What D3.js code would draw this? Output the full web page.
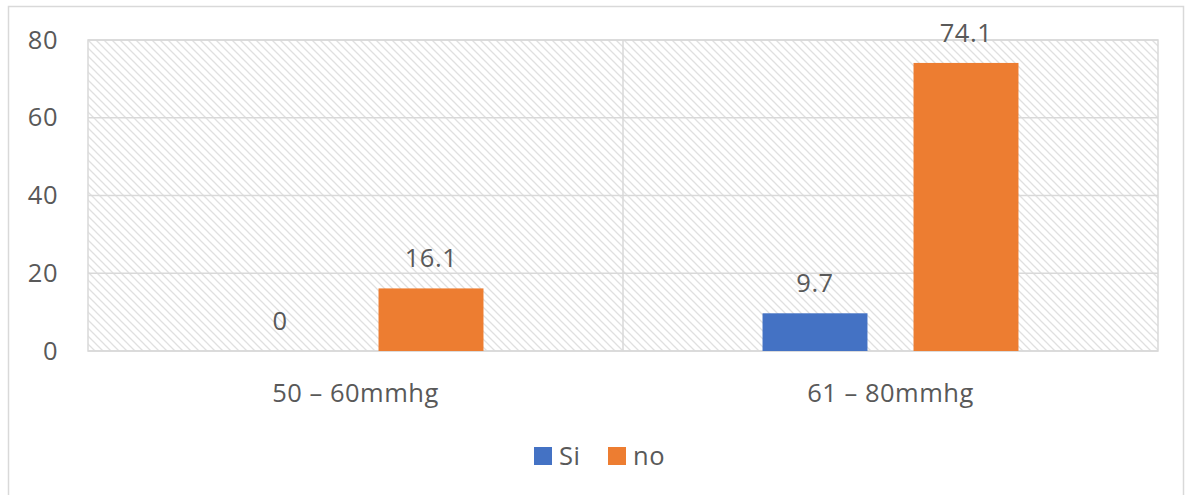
<!DOCTYPE html>
<html>
<head>
<meta charset="utf-8">
<script src="https://cdn.jsdelivr.net/npm/d3@7"></script>
<style>
  html, body { margin: 0; padding: 0; background: #fff; }
  svg { display: block; }
  text { font-family: "Open Sans", sans-serif; fill: #595959; letter-spacing: 0.5px; }
</style>
</head>
<body>
<svg id="chart" width="1187" height="495"></svg>
<script>
// Chart data
const categories = ["50 \u2013 60mmhg", "61 \u2013 80mmhg"];
const seriesNames = ["Si", "no"];
const siValues = [0, 9.7];
const noValues = [16.1, 74.1];
const yTicks = [0, 20, 40, 60, 80];
const seriesColors = ["#4472c4", "#ed7d31"];

const W = 1187, H = 495;
const margin = { left: 88, right: 29, top: 40, bottom: 144 };
const fontSize = 25.5;
const svg = d3.select("#chart");

// Diagonal hatch fill for the plot area
const defs = svg.append("defs");
const pat = defs.append("pattern")
  .attr("id", "hatch")
  .attr("patternUnits", "userSpaceOnUse")
  .attr("width", 8).attr("height", 8);
pat.append("path")
  .attr("d", "M-2,-2 L10,10 M-2,6 L2,10 M6,-2 L10,2")
  .attr("stroke", "#e0e0e0")
  .attr("stroke-width", 1.3);

// Outer chart frame
svg.append("rect")
  .attr("x", 8.5).attr("y", 6.5)
  .attr("width", 1175).attr("height", 500)
  .attr("fill", "none")
  .attr("stroke", "#d9d9d9")
  .attr("stroke-width", 1.5);

const x0 = d3.scaleBand()
  .domain(categories)
  .range([margin.left, W - margin.right]);

const x1 = d3.scaleBand()
  .domain(seriesNames)
  .range([0, x0.bandwidth()])
  .paddingInner(0.305)
  .paddingOuter(0.924);

const y = d3.scaleLinear()
  .domain([0, 80])
  .range([H - margin.bottom, margin.top]);

// Plot area with hatch
svg.append("rect")
  .attr("x", margin.left).attr("y", margin.top)
  .attr("width", W - margin.left - margin.right)
  .attr("height", y(0) - y(80))
  .attr("fill", "url(#hatch)")
  .attr("stroke", "#d9d9d9")
  .attr("stroke-width", 1.5);

// Horizontal gridlines
svg.append("g")
  .selectAll("line")
  .data(yTicks)
  .join("line")
  .attr("x1", margin.left).attr("x2", W - margin.right)
  .attr("y1", d => y(d)).attr("y2", d => y(d))
  .attr("stroke", "#d9d9d9")
  .attr("stroke-width", 1.5);

// Category separator
svg.append("line")
  .attr("x1", x0(categories[1])).attr("x2", x0(categories[1]))
  .attr("y1", y(80)).attr("y2", y(0))
  .attr("stroke", "#d9d9d9")
  .attr("stroke-width", 1.5);

// Y axis labels
const yAxis = d3.axisLeft(y).tickValues(yTicks).tickSize(0).tickPadding(0);
const gy = svg.append("g")
  .attr("transform", "translate(58,0)")
  .call(yAxis);
gy.select(".domain").remove();
gy.selectAll("text")
  .attr("font-size", fontSize)
  .attr("fill", "#595959")
  .style("font-family", "'Open Sans', sans-serif");

// X axis labels
const xAxis = d3.axisBottom(x0).tickSize(0).tickPadding(0);
const gx = svg.append("g")
  .attr("transform", `translate(0,${y(0) + 33})`)
  .call(xAxis);
gx.select(".domain").remove();
gx.selectAll("text")
  .attr("font-size", fontSize)
  .attr("fill", "#595959")
  .style("font-family", "'Open Sans', sans-serif");

// Bars and value labels
const rows = categories.map((c, i) => ({
  category: c,
  values: [
    { series: seriesNames[0], value: siValues[i], color: seriesColors[0] },
    { series: seriesNames[1], value: noValues[i], color: seriesColors[1] }
  ]
}));

const groups = svg.append("g")
  .selectAll("g")
  .data(rows)
  .join("g")
  .attr("transform", d => `translate(${x0(d.category)},0)`);

groups.selectAll("rect")
  .data(d => d.values)
  .join("rect")
  .attr("x", d => x1(d.series))
  .attr("width", x1.bandwidth())
  .attr("y", d => y(d.value))
  .attr("height", d => y(0) - y(d.value))
  .attr("fill", d => d.color);

groups.selectAll("text.value")
  .data(d => d.values)
  .join("text")
  .attr("class", "value")
  .attr("x", d => x1(d.series) + x1.bandwidth() / 2)
  .attr("y", d => y(d.value) - 21)
  .attr("text-anchor", "middle")
  .attr("font-size", fontSize)
  .text(d => d.value);

// Legend
const legend = svg.append("g").attr("transform", "translate(534,447)");
const items = legend.selectAll("g")
  .data(seriesNames)
  .join("g")
  .attr("transform", (d, i) => `translate(${i * 74},0)`);
items.append("rect")
  .attr("width", 18).attr("height", 18)
  .attr("fill", (d, i) => seriesColors[i]);
items.append("text")
  .attr("x", 25).attr("y", 9)
  .attr("dy", "0.36em")
  .attr("font-size", fontSize)
  .text(d => d);
</script>
</body>
</html>
